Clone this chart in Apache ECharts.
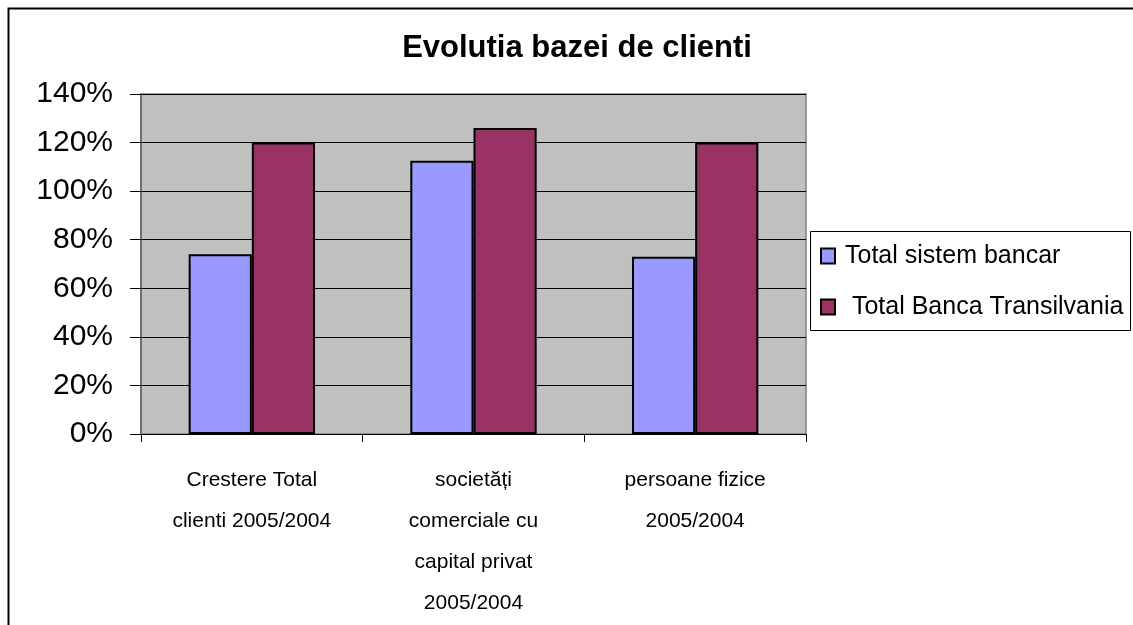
<!DOCTYPE html>
<html>
<head>
<meta charset="utf-8">
<script src="https://cdn.jsdelivr.net/npm/echarts@6/dist/echarts.min.js"></script>
<style>
html,body{margin:0;padding:0;background:#fff;}
#chart{width:1133px;height:625px;}
</style>
</head>
<body>
<div id="chart"></div>
<script>
var titleText = 'Evolutia bazei de clienti';
var categories = [
  'Crestere Total\nclienti 2005/2004',
  'societăți\ncomerciale cu\ncapital privat\n2005/2004',
  'persoane fizice\n2005/2004'
];
var seriesNames = ['Total sistem bancar', ' Total Banca Transilvania'];
var sistemBancar = [74, 112.5, 73];
var bancaTransilvania = [120, 126, 120];
var yTicks = [0, 20, 40, 60, 80, 100, 120, 140];

var chart = echarts.init(document.getElementById('chart'), null, {renderer: 'canvas'});
var option = {
  animation: false,
  backgroundColor: '#ffffff',
  title: {
    text: titleText,
    left: 572, top: 28,
    textAlign: 'center',
    textStyle: {fontFamily: 'Liberation Sans', fontWeight: 'bold', fontSize: 31, color: '#000'}
  },
  graphic: [
    {type: 'polyline', silent: true, shape: {points: [[8.5, 625], [8.5, 8.5], [1133, 8.5]]},
     style: {stroke: '#000', lineWidth: 2, fill: null}},
    {type: 'rect', silent: true, shape: {x: 810.5, y: 231.5, width: 320, height: 99},
     style: {stroke: '#000', lineWidth: 1, fill: '#fff'}, z: 0}
  ],
  legend: {
    orient: 'vertical',
    left: 820, top: 242,
    padding: 0,
    itemWidth: 14, itemHeight: 15,
    itemGap: 23,
    icon: 'rect',
    data: seriesNames,
    textStyle: {fontFamily: 'Liberation Sans', fontSize: 25, color: '#000', lineHeight: 28, padding: [0, 0, 0, 5]},
    z: 10
  },
  grid: {
    left: 141, right: 327, top: 94, bottom: 191,
    show: true, backgroundColor: '#C0C0C0', borderColor: '#808080', borderWidth: 1.5
  },
  xAxis: {
    type: 'category',
    data: categories,
    axisLine: {show: true, lineStyle: {color: '#000', width: 1}},
    axisTick: {show: true, length: 8, lineStyle: {color: '#000'}},
    axisLabel: {
      interval: 0, margin: 26,
      fontFamily: 'Liberation Sans', fontSize: 21, lineHeight: 41,
      color: '#000', align: 'center'
    }
  },
  yAxis: {
    type: 'value',
    min: yTicks[0], max: yTicks[yTicks.length - 1], interval: 20,
    axisLine: {show: true, lineStyle: {color: '#606060', width: 1.5}},
    axisTick: {show: true, length: 11, lineStyle: {color: '#000'}},
    axisLabel: {
      margin: 28, formatter: '{value}%',
      fontFamily: 'Liberation Sans', fontSize: 30, color: '#000'
    },
    splitLine: {show: true, lineStyle: {color: '#000', width: 1}}
  },
  series: [
    {name: seriesNames[0], type: 'bar', data: sistemBancar, barGap: '0%', barCategoryGap: '43%',
     itemStyle: {color: '#9999FF', borderColor: '#000', borderWidth: 2}},
    {name: seriesNames[1], type: 'bar', data: bancaTransilvania, barGap: '0%', barCategoryGap: '43%',
     itemStyle: {color: '#993366', borderColor: '#000', borderWidth: 2}}
  ]
};
chart.setOption(option);
</script>
</body>
</html>
